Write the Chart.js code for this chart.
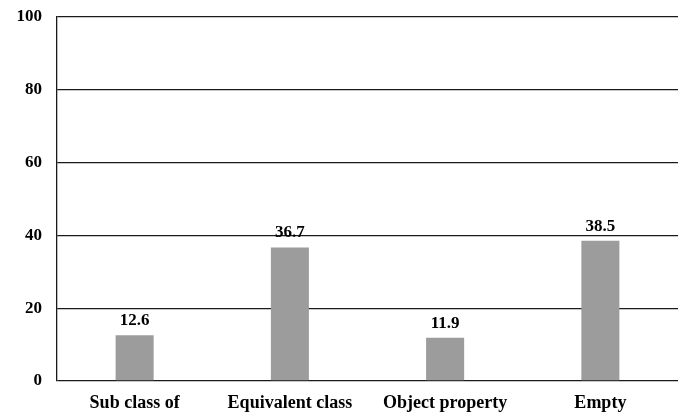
<!DOCTYPE html>
<html lang="en">
<head>
<meta charset="UTF-8">
<title>Chart</title>
<script src="https://cdn.jsdelivr.net/npm/chart.js"></script>
<style>
  html, body { margin: 0; padding: 0; background: #fff; }
  #wrap { width: 683px; height: 415px; }
</style>
</head>
<body>
<div id="wrap"><canvas id="chart"></canvas></div>
<script>
// data
var categories = ['Sub class of', 'Equivalent class', 'Object property', 'Empty'];
var values = [12.6, 36.7, 11.9, 38.5];
var yTicks = [0, 20, 40, 60, 80, 100];

var serif = '"Liberation Serif", "Times New Roman", serif';

// draw value labels above each bar
var valueLabels = {
  id: 'valueLabels',
  afterDatasetsDraw: function(chart) {
    var ctx = chart.ctx;
    var meta = chart.getDatasetMeta(0);
    ctx.save();
    ctx.font = 'bold 17px ' + serif;
    ctx.fillStyle = '#000';
    ctx.textAlign = 'center';
    ctx.textBaseline = 'bottom';
    meta.data.forEach(function(bar, i) {
      ctx.fillText(values[i].toFixed(1), bar.x, bar.y - 6);
    });
    ctx.restore();
  }
};

var ctx = document.getElementById('chart').getContext('2d');
var chart = new Chart(ctx, {
  type: 'bar',
  data: {
    labels: categories,
    datasets: [{
      data: values,
      backgroundColor: '#9c9c9c',
      borderWidth: 0,
      categoryPercentage: 1,
      barPercentage: 0.245
    }]
  },
  options: {
    responsive: true,
    maintainAspectRatio: false,
    animation: false,
    layout: { padding: { top: 17, right: 5, left: 0, bottom: 0 } },
    plugins: { legend: { display: false }, tooltip: { enabled: false } },
    scales: {
      x: {
        grid: { display: false, drawTicks: false },
        border: { display: false },
        ticks: { color: '#000', font: { family: serif, size: 18, weight: 'bold' }, padding: 12, maxRotation: 0 },
        afterFit: function(s) { s.height = 34; s.paddingLeft = 0; s.paddingRight = 0; }
      },
      y: {
        min: 0,
        max: 100,
        afterBuildTicks: function(s) { s.ticks = yTicks.map(function(v) { return { value: v }; }); },
        grid: { color: '#1a1a1a', lineWidth: 1.3, drawTicks: false },
        border: { display: true, color: '#1a1a1a', width: 1.3 },
        ticks: { color: '#000', font: { family: serif, size: 17, weight: 'bold' }, padding: 15 },
        afterFit: function(s) { s.width = 57; s.paddingTop = 0; s.paddingBottom = 0; }
      }
    }
  },
  plugins: [valueLabels]
});
</script>
</body>
</html>
